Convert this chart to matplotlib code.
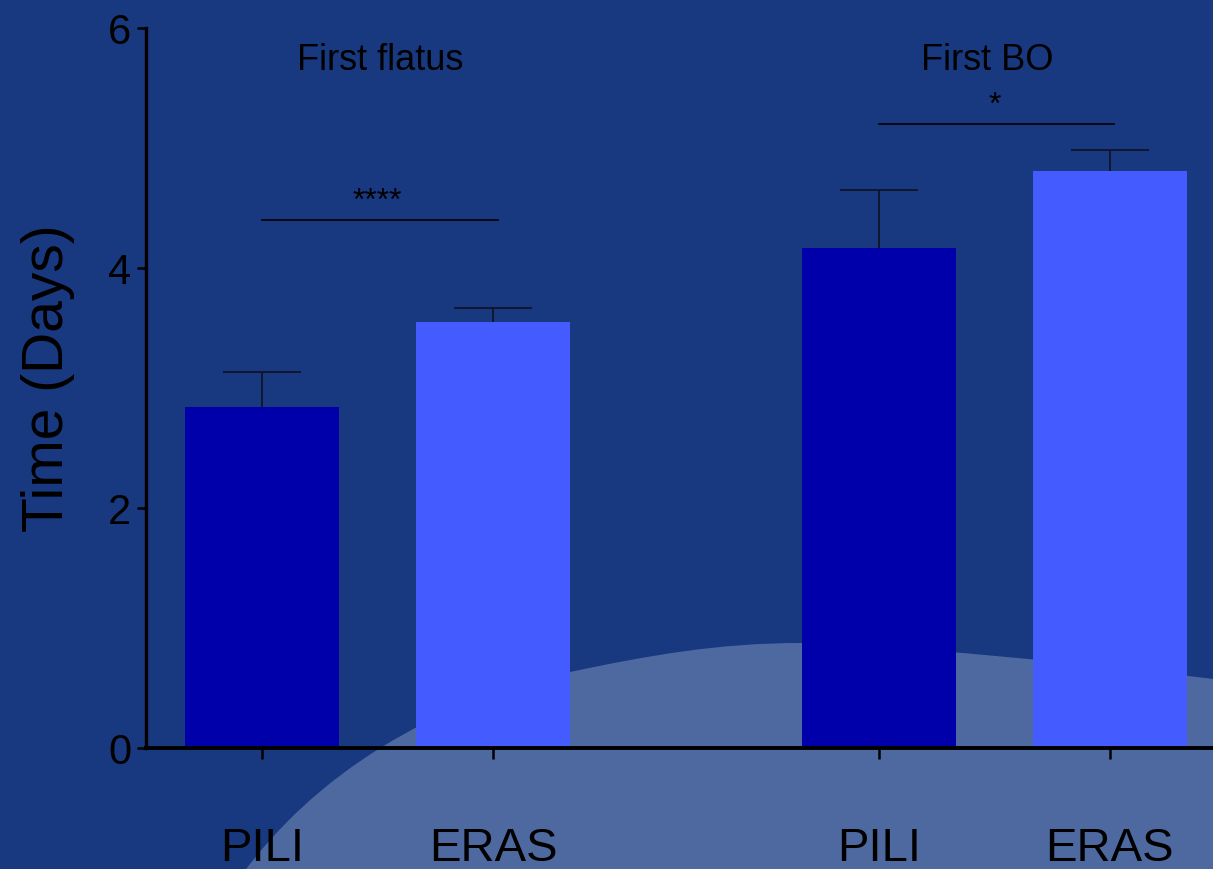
import numpy as np
import matplotlib.pyplot as plt
from matplotlib.path import Path
from matplotlib.patches import PathPatch

plt.rcParams['font.family'] = ['Liberation Sans', 'DejaVu Sans']

groups = ["First flatus", "First BO"]
labels = ["PILI", "ERAS", "PILI", "ERAS"]
means = [2.84, 3.55, 4.17, 4.81]
errs = [0.29, 0.12, 0.48, 0.17]
stars = ["****", "*"]
star_heights = [4.4, 5.2]

bg = "#183880"
blob = "#4e68a0"
dark = "#0000aa"
light = "#445cff"

W, H = 1213, 869
fig = plt.figure(figsize=(W / 100, H / 100), dpi=100, facecolor=bg)

# pale rounded shape behind the plot, in pixel units
def px(x, y):
    return (x / W, 1 - y / H)

verts = [px(238, 880),
         px(315, 772), px(435, 702), px(570, 672),
         px(650, 655), px(720, 643), px(800, 643),
         px(880, 643), px(1100, 665), px(1230, 681),
         px(1230, 880), px(238, 880)]
codes = [Path.MOVETO] + [Path.CURVE4] * 9 + [Path.LINETO, Path.CLOSEPOLY]
fig.add_artist(PathPatch(Path(verts, codes), facecolor=blob, edgecolor='none',
                         transform=fig.transFigure, zorder=-1))

ax = fig.add_axes([146 / W, 121 / H, 1 - 146 / W, 720 / H])
ax.patch.set_visible(False)

x = np.array([0, 1, 2.67, 3.67])
width = 0.667
colors = [dark, light, dark, light]
ax.bar(x, means, width=width, color=colors, edgecolor='none', zorder=2)
eb = ax.errorbar(x, means, yerr=[np.zeros(len(errs)), errs], fmt='none',
                 ecolor='#111122', elinewidth=1.2, capsize=28, capthick=1.2, zorder=3)
# keep only the upper caps
eb[1][0].set_visible(False)

# group titles and significance bars
title_x = [0.51, 3.14]
pairs = [(x[0], x[1]), (x[2], x[3])]
for (a, b), tx, name, s, h in zip(pairs, title_x, groups, stars, star_heights):
    ax.text(tx, 5.73, name, ha='center', va='center', fontsize=26)
    ax.plot([a, b + 0.02], [h, h], color='black', lw=1.2)
    ax.text((a + b) / 2, h + 0.15, s, ha='center', va='center', fontsize=23)

ax.set_xlim(-0.502, 4.117)
ax.set_ylim(0, 6)
ax.set_yticks([0, 2, 4, 6])
ax.set_xticks(x)
ax.set_xticklabels(labels)

ax.spines['top'].set_visible(False)
ax.spines['right'].set_visible(False)
ax.spines['left'].set_linewidth(2.4)
ax.spines['bottom'].set_linewidth(2.8)
ax.tick_params(axis='y', length=6.5, width=1.8, pad=4, labelsize=30)
ax.tick_params(axis='x', length=8, width=1.8, pad=49, labelsize=34)

ax.set_ylabel("Time (Days)", fontsize=41)
ax.yaxis.set_label_coords(-0.067, 0.514)

fig.savefig("out.png", dpi=100, facecolor=bg)
